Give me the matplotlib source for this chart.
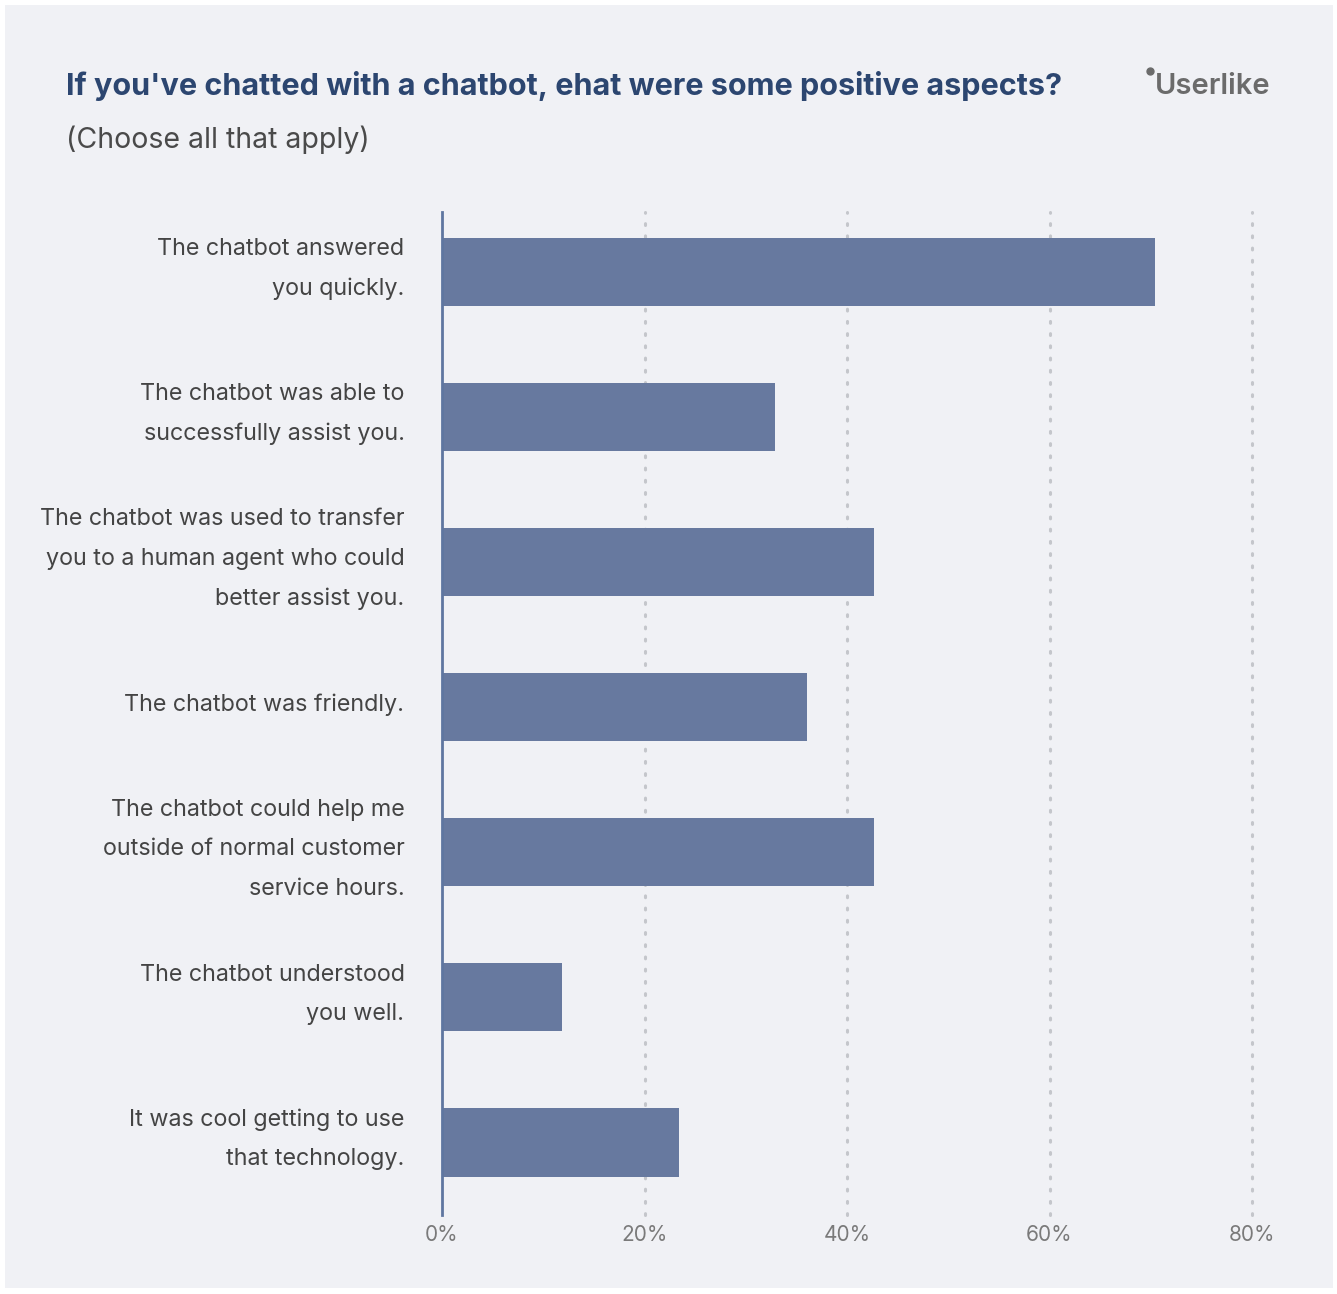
import matplotlib
matplotlib.use("Agg")
from matplotlib import pyplot as plt
from matplotlib.patches import Rectangle
from matplotlib.transforms import ScaledTranslation

categories = [
    "The chatbot answered\nyou quickly.",
    "The chatbot was able to\nsuccessfully assist you.",
    "The chatbot was used to transfer\nyou to a human agent who could\nbetter assist you.",
    "The chatbot was friendly.",
    "The chatbot could help me\noutside of normal customer\nservice hours.",
    "The chatbot understood\nyou well.",
    "It was cool getting to use\nthat technology.",
]
values = [70.4, 32.9, 42.7, 36.0, 42.7, 11.9, 23.4]
xticks = [0, 20, 40, 60, 80]
xtick_labels = ["0%", "20%", "40%", "60%", "80%"]

bg = "#f0f1f5"
bar_color = "#67799f"

plt.rcParams["font.family"] = ["Inter", "DejaVu Sans"]

fig = plt.figure(figsize=(13.37, 12.94), dpi=100)
fig.patch.set_facecolor("white")
fig.patches.append(Rectangle((5 / 1337, 6 / 1294), 1328 / 1337, 1283 / 1294,
                             transform=fig.transFigure, facecolor=bg,
                             edgecolor="none", zorder=-10))

ax = fig.add_axes([442 / 1337, 1 - 1215 / 1294, 810 / 1337, 1003 / 1294])
ax.set_facecolor(bg)
ax.patch.set_alpha(0)

ypos = list(range(len(categories)))
ax.barh(ypos, values, height=0.47, color=bar_color, zorder=3)
ax.set_xlim(0, 80)
ax.set_ylim(6.5, -0.414)

ax.set_xticks(xticks)
ax.set_xticklabels(xtick_labels, fontsize=15, color="#7a7a7a")
ax.set_yticks(ypos)
ax.set_yticklabels(categories, fontsize=16.8, color="#444444", linespacing=2.03,
                   ha="right", va="center")
ax.tick_params(axis="x", length=0, pad=7)
ax.tick_params(axis="y", length=0, pad=27)
# nudge labels up a little to sit on the bar centre
for lab in ax.get_yticklabels():
    lab.set_transform(lab.get_transform() +
                      ScaledTranslation(0, 3 / 100, fig.dpi_scale_trans))

for x in xticks[1:]:
    ax.axvline(x, color="#c4c6cb", linestyle=(0, (0.6, 3.4)), linewidth=2.2,
               dash_capstyle="round", zorder=1, clip_on=False)

for side in ["top", "right", "bottom"]:
    ax.spines[side].set_visible(False)
ax.spines["left"].set_color("#5f76a0")
ax.spines["left"].set_linewidth(2)
ax.spines["left"].set_zorder(4)

fig.text(66 / 1337, 1 - 86 / 1294,
         "If you've chatted with a chatbot, ehat were some positive aspects?",
         fontsize=22, fontweight="bold", color="#2c4670", va="center")
fig.text(66 / 1337, 1 - 140 / 1294, "(Choose all that apply)",
         fontsize=20.5, color="#4a4a4a", va="center")

# logo
fig.text(1155 / 1337, 1 - 87 / 1294, "Userlike", fontsize=21,
         fontweight="semibold", color="#6b6b6b", va="center")
fig.lines.append(plt.Line2D([1150 / 1337], [1 - 71 / 1294], marker="o",
                            markersize=5, color="#6b6b6b",
                            transform=fig.transFigure))

fig.savefig("out.png", dpi=100, facecolor=fig.get_facecolor())
